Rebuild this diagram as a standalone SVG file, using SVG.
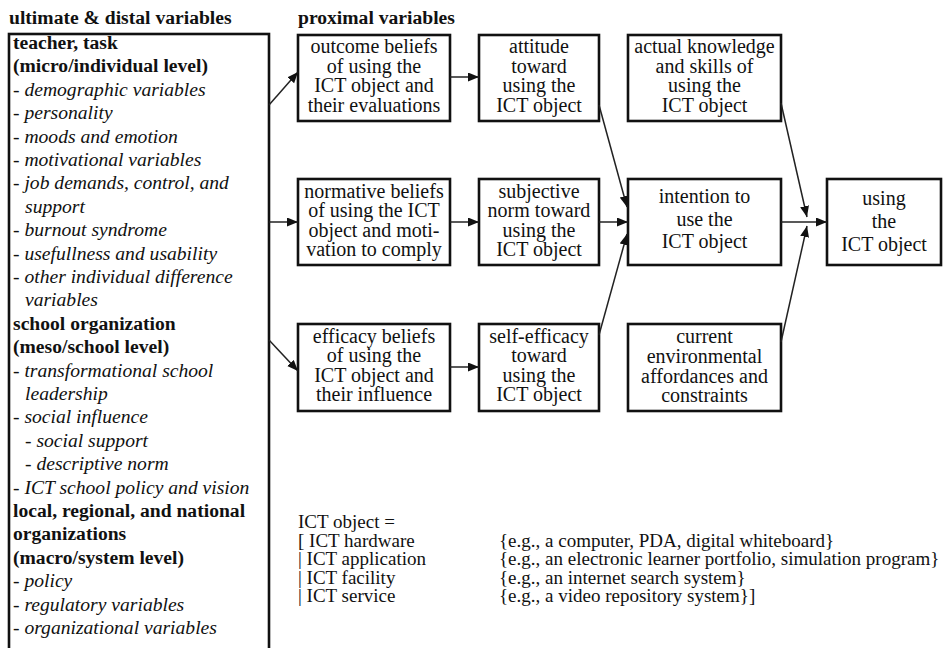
<svg xmlns="http://www.w3.org/2000/svg" width="944" height="648" viewBox="0 0 944 648">
<style>
text{font-family:"Liberation Serif","Times New Roman",serif;fill:#111}
.t{font-size:19.6px;font-weight:bold}
.l{font-size:19.6px}
.b{font-weight:bold}
.i{font-style:italic}
.bx text{font-size:20px;text-anchor:middle}
.bx rect{fill:#fff;stroke:#111;stroke-width:2.6}
.lg{font-size:19px}
#connectors line{stroke:#222;stroke-width:1.5;marker-end:url(#ah)}
</style>
<defs>
<marker id="ah" markerUnits="userSpaceOnUse" markerWidth="12" markerHeight="10" refX="11" refY="4.5" orient="auto">
<path d="M0,0 L11,4.5 L0,9 z" fill="#111"/>
</marker>
</defs>
<rect width="944" height="648" fill="#fff"/>
<text class="t" x="9" y="24">ultimate &amp; distal variables</text>
<text class="t" x="298" y="24">proximal variables</text>

<g id="distal">
<rect x="9" y="34" width="260" height="630" fill="#fff" stroke="#111" stroke-width="2.6"/>
<g class="l">
<text class="b" x="13" y="49">teacher, task</text>
<text class="b" x="13" y="72.4">(micro/individual level)</text>
<text class="i" x="13" y="95.8">- demographic variables</text>
<text class="i" x="13" y="119.2">- personality</text>
<text class="i" x="13" y="142.6">- moods and emotion</text>
<text class="i" x="13" y="166">- motivational variables</text>
<text class="i" x="13" y="189.4">- job demands, control, and</text>
<text class="i" x="25" y="212.8">support</text>
<text class="i" x="13" y="236.2">- burnout syndrome</text>
<text class="i" x="13" y="259.6">- usefullness and usability</text>
<text class="i" x="13" y="283">- other individual difference</text>
<text class="i" x="25" y="306.4">variables</text>
<text class="b" x="13" y="329.8">school organization</text>
<text class="b" x="13" y="353.2">(meso/school level)</text>
<text class="i" x="13" y="376.6">- transformational school</text>
<text class="i" x="25" y="400">leadership</text>
<text class="i" x="13" y="423.4">- social influence</text>
<text class="i" x="25" y="446.8">- social support</text>
<text class="i" x="25" y="470.2">- descriptive norm</text>
<text class="i" x="13" y="493.6">- ICT school policy and vision</text>
<text class="b" x="13" y="517">local, regional, and national</text>
<text class="b" x="13" y="540.4">organizations</text>
<text class="b" x="13" y="563.8">(macro/system level)</text>
<text class="i" x="13" y="587.2">- policy</text>
<text class="i" x="13" y="610.6">- regulatory variables</text>
<text class="i" x="13" y="634">- organizational variables</text>
</g>
</g>

<g id="outcome" class="bx">
<rect x="298" y="35" width="152" height="86"/>
<text x="374" y="53">outcome beliefs</text>
<text x="374" y="72.5">of using the</text>
<text x="374" y="92">ICT object and</text>
<text x="374" y="111.5">their evaluations</text>
</g>
<g id="attitude" class="bx">
<rect x="479" y="35" width="120" height="86"/>
<text x="539" y="53">attitude</text>
<text x="539" y="72.5">toward</text>
<text x="539" y="92">using the</text>
<text x="539" y="111.5">ICT object</text>
</g>
<g id="knowledge" class="bx">
<rect x="628" y="35" width="153" height="86"/>
<text x="704.5" y="53">actual knowledge</text>
<text x="704.5" y="72.5">and skills of</text>
<text x="704.5" y="92">using the</text>
<text x="704.5" y="111.5">ICT object</text>
</g>
<g id="normative" class="bx">
<rect x="298" y="179" width="152" height="86"/>
<text x="374" y="197.5">normative beliefs</text>
<text x="374" y="217">of using the ICT</text>
<text x="374" y="236.5">object and moti-</text>
<text x="374" y="256">vation to comply</text>
</g>
<g id="subjective" class="bx">
<rect x="479" y="179" width="120" height="86"/>
<text x="539" y="197.5">subjective</text>
<text x="539" y="217">norm toward</text>
<text x="539" y="236.5">using the</text>
<text x="539" y="256">ICT object</text>
</g>
<g id="intention" class="bx">
<rect x="628" y="179" width="153" height="86"/>
<text x="704.5" y="203">intention to</text>
<text x="704.5" y="225.5">use the</text>
<text x="704.5" y="248">ICT object</text>
</g>
<g id="using" class="bx">
<rect x="827" y="179" width="114" height="86"/>
<text x="884" y="205">using</text>
<text x="884" y="228">the</text>
<text x="884" y="251">ICT object</text>
</g>
<g id="efficacy" class="bx">
<rect x="298" y="324" width="152" height="87"/>
<text x="374" y="342.5">efficacy beliefs</text>
<text x="374" y="362">of using the</text>
<text x="374" y="381.5">ICT object and</text>
<text x="374" y="401">their influence</text>
</g>
<g id="selfefficacy" class="bx">
<rect x="479" y="324" width="120" height="87"/>
<text x="539" y="342.5">self-efficacy</text>
<text x="539" y="362">toward</text>
<text x="539" y="381.5">using the</text>
<text x="539" y="401">ICT object</text>
</g>
<g id="environment" class="bx">
<rect x="628" y="324" width="153" height="87"/>
<text x="704.5" y="342.5">current</text>
<text x="704.5" y="363">environmental</text>
<text x="704.5" y="383">affordances and</text>
<text x="704.5" y="402">constraints</text>
</g>

<g id="connectors">
<line x1="269" y1="105" x2="298" y2="72"/>
<line x1="269" y1="222" x2="298" y2="222"/>
<line x1="269" y1="340" x2="298" y2="371"/>
<line x1="450" y1="77" x2="479" y2="77"/>
<line x1="450" y1="222" x2="479" y2="222"/>
<line x1="450" y1="367" x2="479" y2="367"/>
<line x1="599" y1="105" x2="627" y2="207"/>
<line x1="599" y1="222" x2="628" y2="222"/>
<line x1="599" y1="335" x2="627" y2="234"/>
<line x1="781" y1="222" x2="827" y2="222"/>
<line x1="781" y1="103" x2="807" y2="217"/>
<line x1="781" y1="342" x2="807" y2="226"/>
</g>

<g id="legend" class="lg">
<text x="298" y="528">ICT object =</text>
<text x="298" y="546.5">[ ICT hardware</text>
<text x="298" y="565">| ICT application</text>
<text x="298" y="583.5">| ICT facility</text>
<text x="298" y="602">| ICT service</text>
<text x="499" y="546.5">{e.g., a computer, PDA, digital whiteboard}</text>
<text x="499" y="565">{e.g., an electronic learner portfolio, simulation program}</text>
<text x="499" y="583.5">{e.g., an internet search system}</text>
<text x="499" y="602">{e.g., a video repository system}]</text>
</g>
</svg>
